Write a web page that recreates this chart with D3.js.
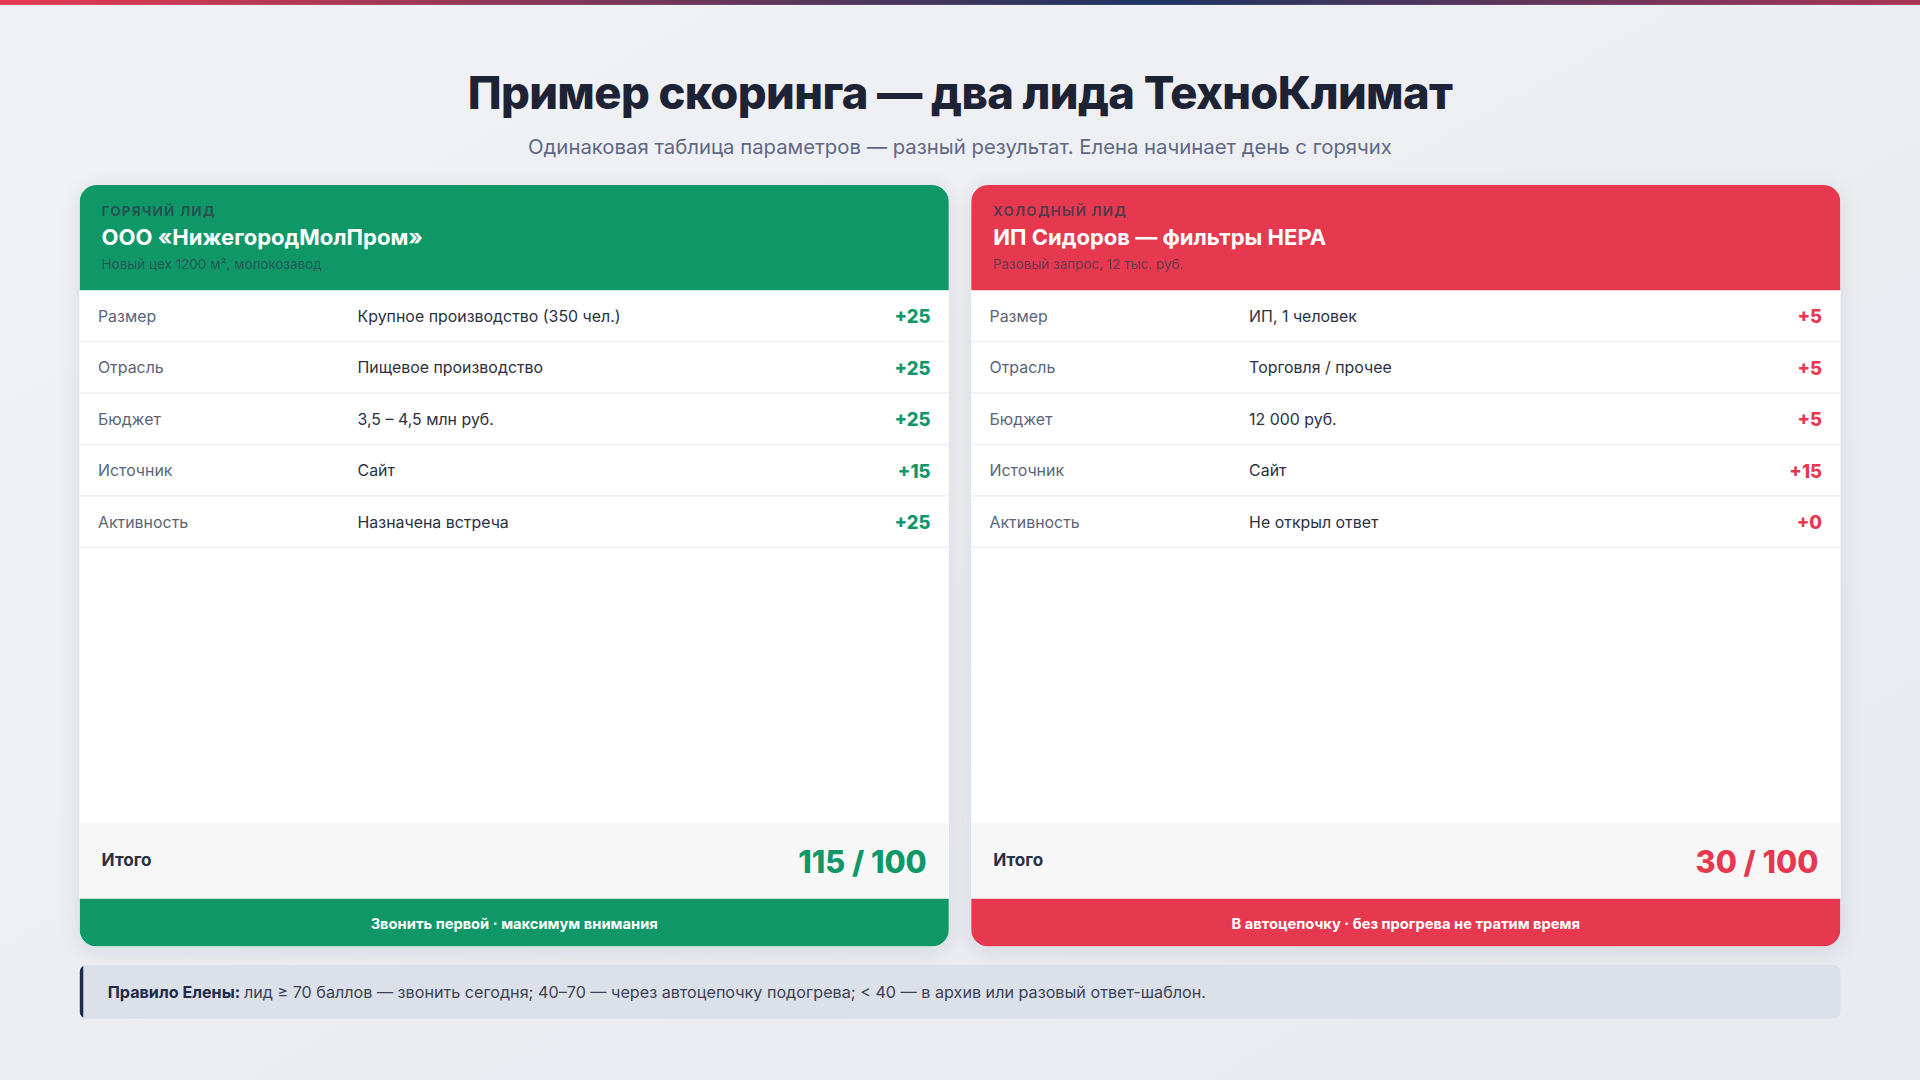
<!DOCTYPE html><html><head><meta charset="utf-8"><script src="https://cdn.jsdelivr.net/npm/d3@7"></script>
<style>body{margin:0;background:#eef0f4;font-family:Inter,"Noto Sans",sans-serif}svg{display:block}</style></head><body>
<script>
const params=["Размер","Отрасль","Бюджет","Источник","Активность"];
const hotValues=["Крупное производство (350 чел.)","Пищевое производство","3,5 – 4,5 млн руб.","Сайт","Назначена встреча"];
const hotScores=[25,25,25,15,25];
const coldValues=["ИП, 1 человек","Торговля / прочее","12 000 руб.","Сайт","Не открыл ответ"];
const coldScores=[5,5,5,15,0];
const cards=[
 {tag:"ГОРЯЧИЙ ЛИД",name:"ООО «НижегородМолПром»",sub:"Новый цех 1200 м², молокозавод",values:hotValues,scores:hotScores,total:115,foot:"Звонить первой · максимум внимания",color:"#0f9768"},
 {tag:"ХОЛОДНЫЙ ЛИД",name:"ИП Сидоров — фильтры HEPA",sub:"Разовый запрос, 12 тыс. руб.",values:coldValues,scores:coldScores,total:30,foot:"В автоцепочку · без прогрева не тратим время",color:"#e63950"}];
const svg=d3.select("body").append("svg").attr("width",1920).attr("height",1080).attr("viewBox","0 0 1568 882");
const defs=svg.append("defs");
const bg=defs.append("linearGradient").attr("id","bg").attr("x1",0).attr("y1",0).attr("x2",1).attr("y2",1);
bg.append("stop").attr("offset",0).attr("stop-color","#f1f2f5");bg.append("stop").attr("offset",1).attr("stop-color","#e7eaef");
const tb=defs.append("linearGradient").attr("id","tb");
[["0","#e63950"],["0.6","#1b3560"],["1","#a83555"]].forEach(s=>tb.append("stop").attr("offset",s[0]).attr("stop-color",s[1]));
const f=defs.append("filter").attr("id","sh").attr("x",-0.1).attr("y",-0.1).attr("width",1.2).attr("height",1.2);
f.append("feDropShadow").attr("dx",0).attr("dy",4).attr("stdDeviation",8).attr("flood-color","#1e2a4a").attr("flood-opacity",0.1);
svg.append("rect").attr("width",1568).attr("height",882).attr("fill","url(#bg)");
svg.append("rect").attr("width",1568).attr("height",4).attr("fill","url(#tb)");
svg.append("text").attr("x",784).attr("y",89).attr("text-anchor","middle").attr("font-size",37).attr("font-weight",800).attr("fill","#1e2235").attr("letter-spacing",-0.5).text("Пример скоринга — два лида ТехноКлимат");
svg.append("text").attr("x",784).attr("y",126).attr("text-anchor","middle").attr("font-size",16.6).attr("fill","#5e6886").text("Одинаковая таблица параметров — разный результат. Елена начинает день с горячих");
const xCard=d3.scaleBand().domain([0,1]).range([65,1503]).paddingInner(18/(1438/2));
const y=d3.scaleBand().domain(params).range([237,447]);
cards.forEach((c,i)=>{
 const x0=xCard(i),w=xCard.bandwidth();
 const g=svg.append("g").attr("transform",`translate(${x0},0)`);
 const cp="cp"+i;
 defs.append("clipPath").attr("id",cp).append("rect").attr("y",151).attr("width",w).attr("height",622).attr("rx",14);
 g.append("rect").attr("y",151).attr("width",w).attr("height",622).attr("rx",14).attr("fill","#fff").attr("filter","url(#sh)");
 const cg=g.append("g").attr("clip-path",`url(#${cp})`);
 cg.append("rect").attr("y",151).attr("width",w).attr("height",86).attr("fill",c.color);
 cg.append("rect").attr("y",672).attr("width",w).attr("height",62).attr("fill","#f7f7f8");
 cg.append("rect").attr("y",734).attr("width",w).attr("height",39).attr("fill",c.color);
 g.append("text").attr("x",18).attr("y",176).attr("font-size",11).attr("font-weight",700).attr("letter-spacing",1).attr("fill","#2d3a4a").attr("opacity",0.75).text(c.tag);
 g.append("text").attr("x",18).attr("y",200).attr("font-size",18).attr("font-weight",700).attr("fill","#fff").text(c.name);
 g.append("text").attr("x",18).attr("y",220).attr("font-size",11).attr("fill","#2d3a4a").attr("opacity",0.7).text(c.sub);
 const rows=g.selectAll(".r").data(params).enter().append("g").attr("transform",d=>`translate(0,${y(d)})`);
 rows.append("line").attr("x1",0).attr("x2",w).attr("y1",y.bandwidth()).attr("y2",y.bandwidth()).attr("stroke","#eceef2");
 rows.append("text").attr("x",15).attr("y",26).attr("font-size",13).attr("fill","#5a6478").text(d=>d);
 rows.append("text").attr("x",227).attr("y",26).attr("font-size",13).attr("fill","#2a3142").text((d,j)=>c.values[j]);
 rows.append("text").attr("x",w-15).attr("y",27).attr("text-anchor","end").attr("font-size",15).attr("font-weight",800).attr("fill",c.color).text((d,j)=>"+"+c.scores[j]);
 g.append("text").attr("x",18).attr("y",707).attr("font-size",14).attr("font-weight",700).attr("fill","#2a3142").text("Итого");
 g.append("text").attr("x",w-18).attr("y",713).attr("text-anchor","end").attr("font-size",25).attr("font-weight",800).attr("fill",c.color).text(c.total+" / 100");
 g.append("text").attr("x",w/2).attr("y",759).attr("text-anchor","middle").attr("font-size",12).attr("font-weight",700).attr("fill","#fff").text(c.foot);
});
const rg=svg.append("g");
defs.append("clipPath").attr("id","rc").append("rect").attr("x",65).attr("y",788).attr("width",1438).attr("height",44).attr("rx",6);
rg.append("rect").attr("x",65).attr("y",788).attr("width",1438).attr("height",44).attr("rx",6).attr("fill","#dce0e8");
rg.append("rect").attr("x",65).attr("y",788).attr("width",3).attr("height",44).attr("fill","#1e2a4a").attr("clip-path","url(#rc)");
const t=rg.append("text").attr("x",88).attr("y",815).attr("font-size",13.2).attr("fill","#3a4256");
t.append("tspan").attr("font-weight",700).attr("fill","#1e2a4a").text("Правило Елены: ");
t.append("tspan").text("лид ≥ 70 баллов — звонить сегодня; 40–70 — через автоцепочку подогрева; < 40 — в архив или разовый ответ-шаблон.");
</script></body></html>
